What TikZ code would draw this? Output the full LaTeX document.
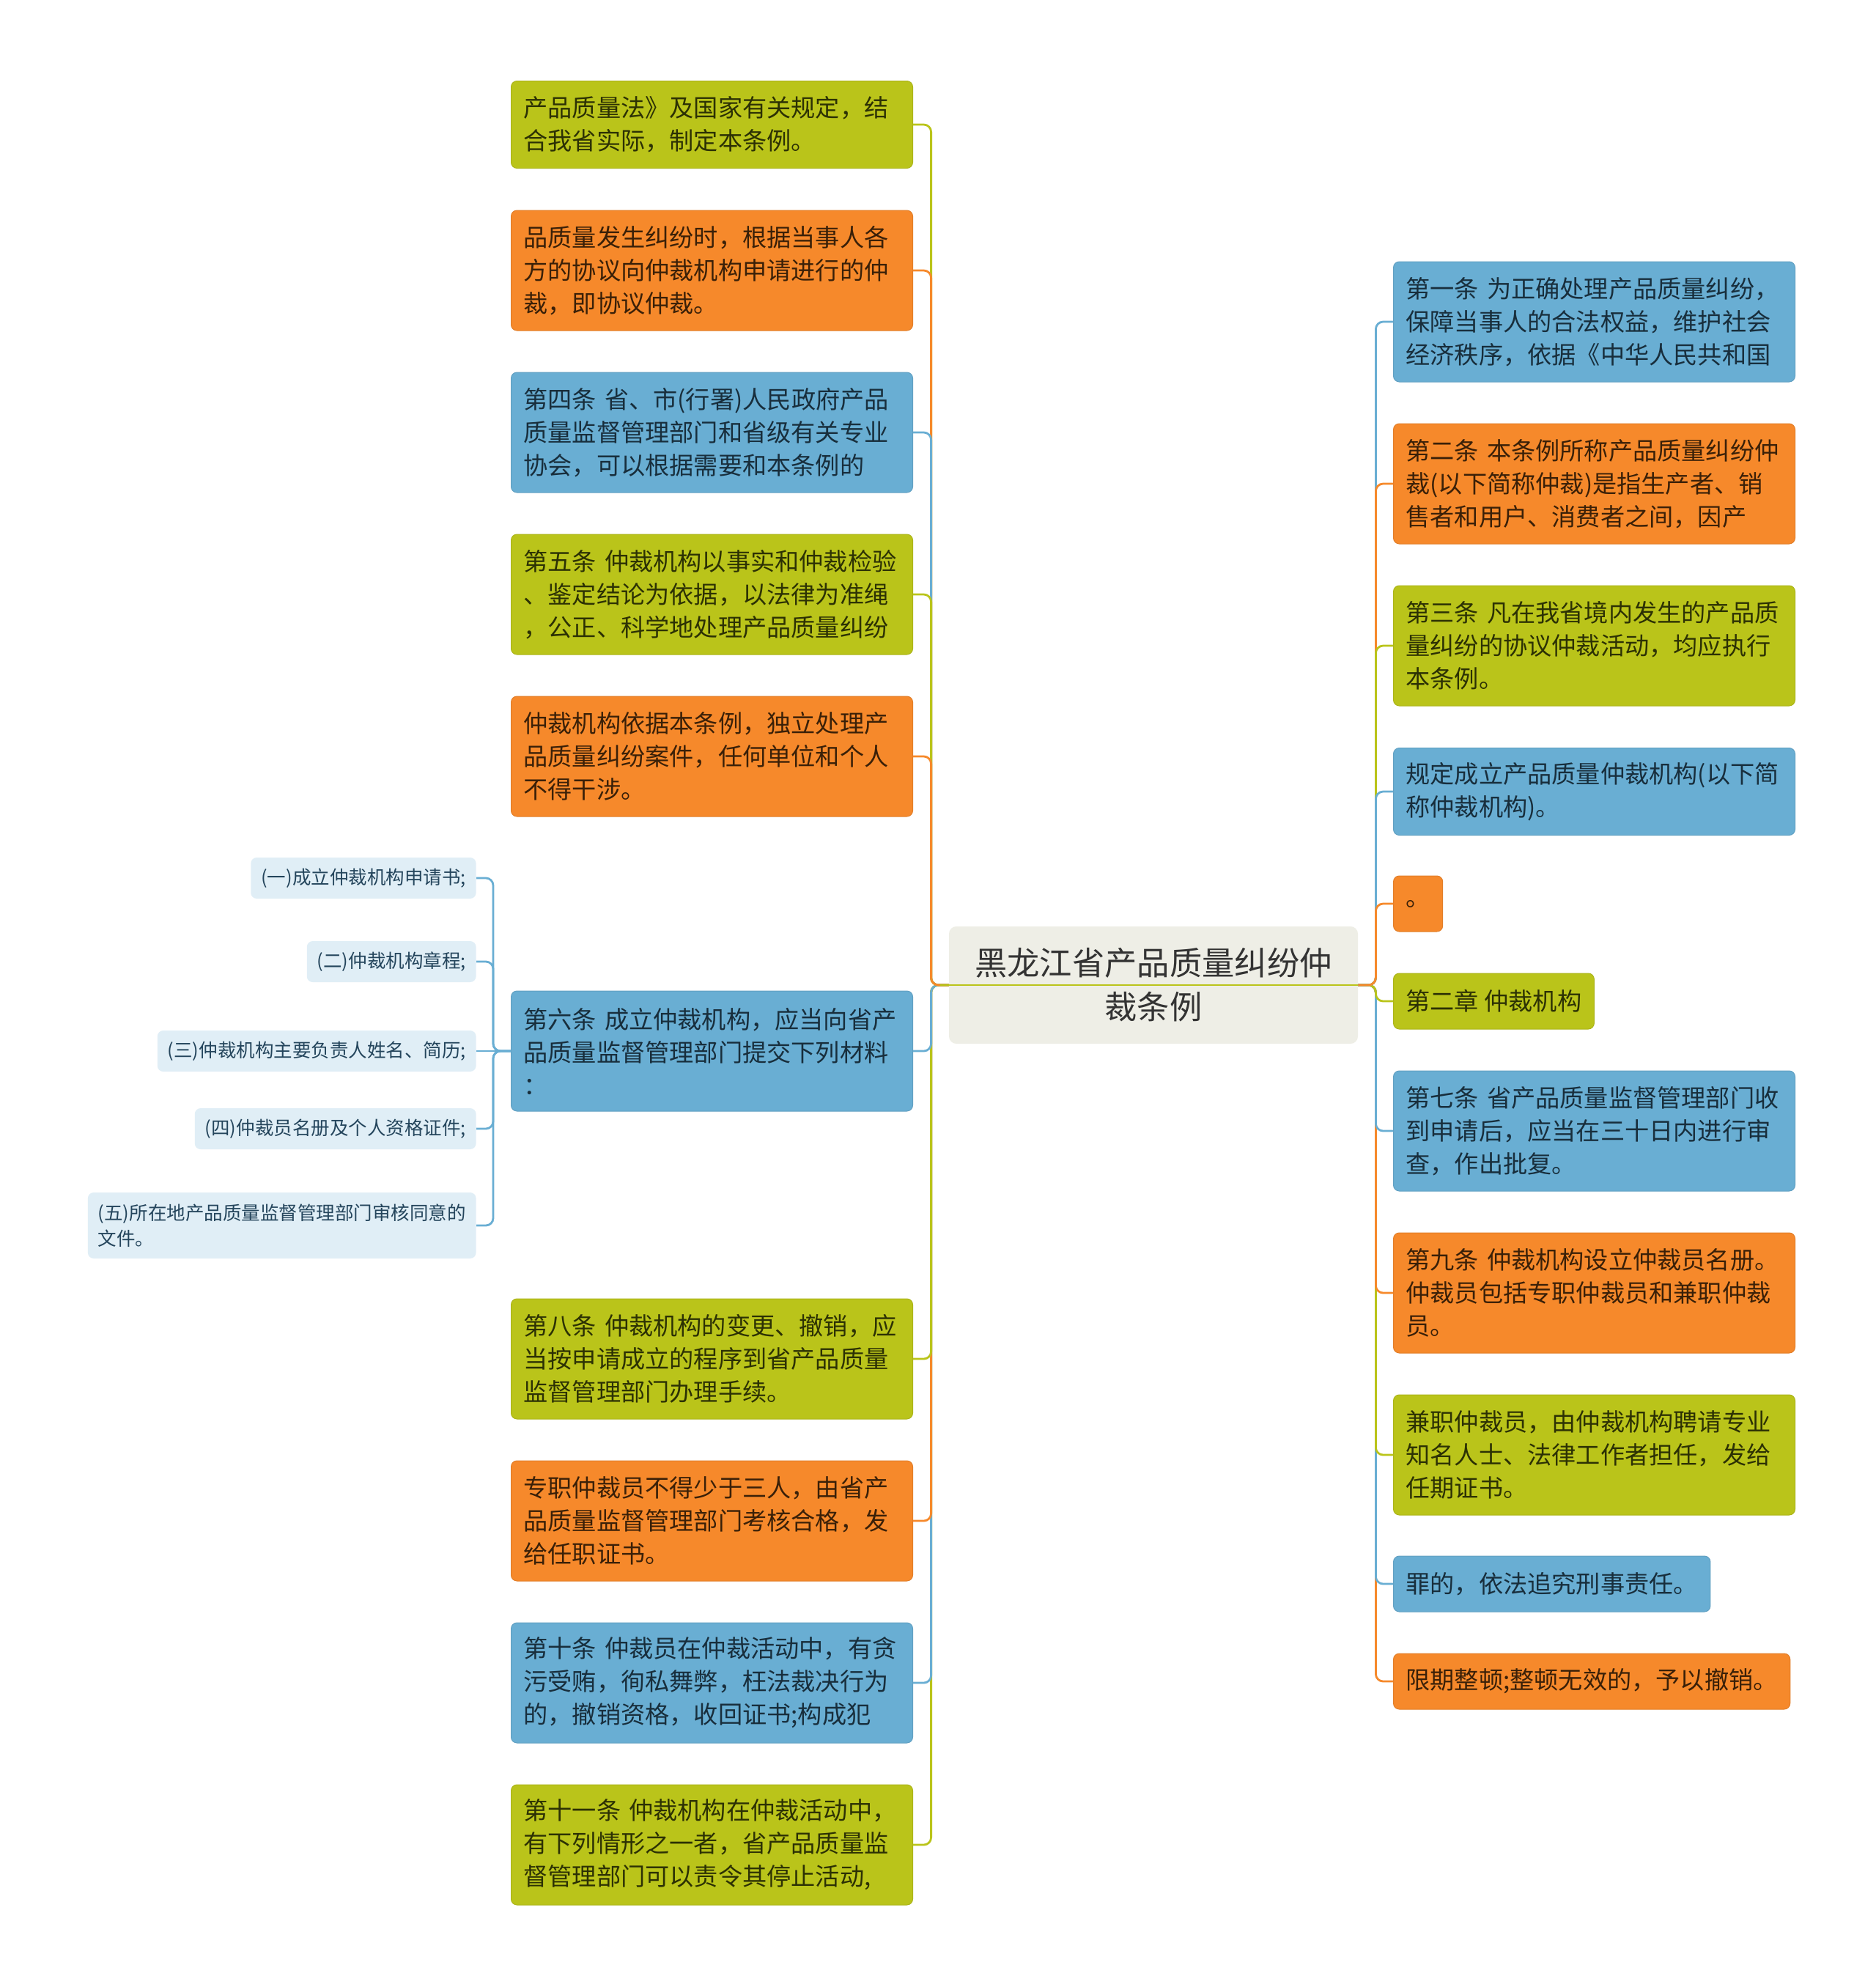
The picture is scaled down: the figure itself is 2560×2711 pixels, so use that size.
\documentclass[tikz,border=0pt]{standalone}
\usepackage{fontspec}
\setmainfont{Noto Sans CJK SC}
\definecolor{cgreen}{HTML}{BAC41A}
\definecolor{corange}{HTML}{F6892B}
\definecolor{cblue}{HTML}{69AED3}
\definecolor{croot}{HTML}{EEEEE6}
\definecolor{csub}{HTML}{E0EEF6}
\definecolor{tgreen}{HTML}{2C3104}
\definecolor{torange}{HTML}{3A2008}
\definecolor{tblue}{HTML}{182E3C}
\definecolor{tsub}{HTML}{24455C}
\definecolor{troot}{HTML}{333333}
\tikzset{
  box/.style={rounded corners=4pt, inner xsep=8.5pt, inner ysep=0pt,
    font=\fontsize{16.6pt}{22.5pt}\selectfont, align=left, line width=0.5pt},
  wide/.style={text width=257pt},
  l3/.style={minimum height=82pt},
  l2/.style={minimum height=59.5pt},
  l1/.style={minimum height=38pt},
  lft/.style={anchor=east},
  rgt/.style={anchor=west},
  gbox/.style={box, fill=cgreen, draw=cgreen!92!black, text=tgreen},
  obox/.style={box, fill=corange, draw=corange!92!black, text=torange},
  bbox/.style={box, fill=cblue, draw=cblue!92!black, text=tblue},
  subbox/.style={rounded corners=4pt, inner xsep=7pt, inner ysep=0pt, fill=csub,
    text=tsub, font=\fontsize{12.75pt}{17.3pt}\selectfont, align=left,
    minimum height=28pt, anchor=east},
  rootbox/.style={rounded corners=5pt, fill=croot, text=troot, align=center,
    font=\fontsize{22.15pt}{30pt}\selectfont, minimum width=279pt, minimum height=80pt, inner sep=0pt},
  conn/.style={line width=1.4pt, rounded corners=5pt}
}
\begin{document}
\begin{tikzpicture}[x=0.5pt,y=-0.5pt]
\useasboundingbox (0,0) rectangle (2560,2711);
\fill[white] (0,0) rectangle (2560,2711);

% root
\node[rootbox] (root) at (1574,1344) {黑龙江省产品质量纠纷仲\\裁条例};

% left column
\node[gbox,wide,l2,lft] (b1) at (1246,170) {产品质量法》及国家有关规定，结\\合我省实际，制定本条例。};
\node[obox,wide,l3,lft] (b2) at (1246,369) {品质量发生纠纷时，根据当事人各\\方的协议向仲裁机构申请进行的仲\\裁，即协议仲裁。};
\node[bbox,wide,l3,lft] (b3) at (1246,590) {第四条~省、市(行署)人民政府产品\\质量监督管理部门和省级有关专业\\协会，可以根据需要和本条例的};
\node[gbox,wide,l3,lft] (b4) at (1246,811) {第五条~仲裁机构以事实和仲裁检验\\、鉴定结论为依据，以法律为准绳\\，公正、科学地处理产品质量纠纷};
\node[obox,wide,l3,lft] (b5) at (1246,1032) {仲裁机构依据本条例，独立处理产\\品质量纠纷案件，任何单位和个人\\不得干涉。};
\node[bbox,wide,l3,lft] (b6) at (1246,1434) {第六条~成立仲裁机构，应当向省产\\品质量监督管理部门提交下列材料\\：};
\node[gbox,wide,l3,lft] (b8) at (1246,1854) {第八条~仲裁机构的变更、撤销，应\\当按申请成立的程序到省产品质量\\监督管理部门办理手续。};
\node[obox,wide,l3,lft] (b9) at (1246,2075) {专职仲裁员不得少于三人，由省产\\品质量监督管理部门考核合格，发\\给任职证书。};
\node[bbox,wide,l3,lft] (b10) at (1246,2296) {第十条~仲裁员在仲裁活动中，有贪\\污受贿，徇私舞弊，枉法裁决行为\\的，撤销资格，收回证书;构成犯};
\node[gbox,wide,l3,lft] (b11) at (1246,2517) {第十一条~仲裁机构在仲裁活动中，\\有下列情形之一者，省产品质量监\\督管理部门可以责令其停止活动,};

% sub nodes of b6
\node[subbox] (s1) at (650,1198) {(一)成立仲裁机构申请书;};
\node[subbox] (s2) at (650,1312) {(二)仲裁机构章程;};
\node[subbox] (s3) at (650,1434) {(三)仲裁机构主要负责人姓名、简历;};
\node[subbox] (s4) at (650,1540) {(四)仲裁员名册及个人资格证件;};
\node[subbox, minimum height=45pt] (s5) at (650,1672) {(五)所在地产品质量监督管理部门审核同意的\\文件。};

% right column
\node[bbox,wide,l3,rgt] (r1) at (1901,439) {第一条~为正确处理产品质量纠纷，\\保障当事人的合法权益，维护社会\\经济秩序，依据《中华人民共和国};
\node[obox,wide,l3,rgt] (r2) at (1901,660) {第二条~本条例所称产品质量纠纷仲\\裁(以下简称仲裁)是指生产者、销\\售者和用户、消费者之间，因产};
\node[gbox,wide,l3,rgt] (r3) at (1901,881) {第三条~凡在我省境内发生的产品质\\量纠纷的协议仲裁活动，均应执行\\本条例。};
\node[bbox,wide,l2,rgt] (r4) at (1901,1080) {规定成立产品质量仲裁机构(以下简\\称仲裁机构)。};
\node[obox,l1,rgt] (r5) at (1901,1233) {。};
\node[gbox,l1,rgt] (r6) at (1901,1366) {第二章~仲裁机构};
\node[bbox,wide,l3,rgt] (r7) at (1901,1543) {第七条~省产品质量监督管理部门收\\到申请后，应当在三十日内进行审\\查，作出批复。};
\node[obox,wide,l3,rgt] (r8) at (1901,1764) {第九条~仲裁机构设立仲裁员名册。\\仲裁员包括专职仲裁员和兼职仲裁\\员。};
\node[gbox,wide,l3,rgt] (r9) at (1901,1985) {兼职仲裁员，由仲裁机构聘请专业\\知名人士、法律工作者担任，发给\\任期证书。};
\node[bbox,l1,rgt] (r10) at (1901,2161) {罪的，依法追究刑事责任。};
\node[obox,l1,rgt] (r11) at (1901,2294) {限期整顿;整顿无效的，予以撤销。};

% left connectors (far first)
\draw[conn,cgreen]  (root.west) -- ++(-24,0) |- (b11.east);
\draw[conn,cblue]   (root.west) -- ++(-24,0) |- (b10.east);
\draw[conn,corange] (root.west) -- ++(-24,0) |- (b9.east);
\draw[conn,cgreen]  (root.west) -- ++(-24,0) |- (b8.east);
\draw[conn,cblue]   (root.west) -- ++(-24,0) |- (b6.east);
\draw[conn,cgreen]  (root.west) -- ++(-24,0) |- (b1.east);
\draw[conn,corange] (root.west) -- ++(-24,0) |- (b2.east);
\draw[conn,cblue]   (root.west) -- ++(-24,0) |- (b3.east);
\draw[conn,cgreen]  (root.west) -- ++(-24,0) |- (b4.east);
\draw[conn,corange] (root.west) -- ++(-24,0) |- (b5.east);
\draw[line width=1.4pt,cgreen] (root.west) ++(-12,0) -- (root.east);

% right connectors (far first)
\draw[conn,corange] (root.east) -- ++(24,0) |- (r11.west);
\draw[conn,cblue]   (root.east) -- ++(24,0) |- (r10.west);
\draw[conn,cgreen]  (root.east) -- ++(24,0) |- (r9.west);
\draw[conn,corange] (root.east) -- ++(24,0) |- (r8.west);
\draw[conn,cblue]   (root.east) -- ++(24,0) |- (r7.west);
\draw[conn,cgreen]  (root.east) -- ++(24,0) |- (r6.west);
\draw[conn,cblue]   (root.east) -- ++(24,0) |- (r1.west);
\draw[conn,corange] (root.east) -- ++(24,0) |- (r2.west);
\draw[conn,cgreen]  (root.east) -- ++(24,0) |- (r3.west);
\draw[conn,cblue]   (root.east) -- ++(24,0) |- (r4.west);
\draw[conn,corange] (root.east) -- ++(24,0) |- (r5.west);

% sub connectors
\draw[conn,cblue] (b6.west) -- ++(-24,0) |- (s1.east);
\draw[conn,cblue] (b6.west) -- ++(-24,0) |- (s2.east);
\draw[conn,cblue] (b6.west) -- ++(-24,0) |- (s4.east);
\draw[conn,cblue] (b6.west) -- ++(-24,0) |- (s5.east);
\draw[line width=1.4pt,cblue] (b6.west) -- (s3.east);
\end{tikzpicture}
\end{document}
